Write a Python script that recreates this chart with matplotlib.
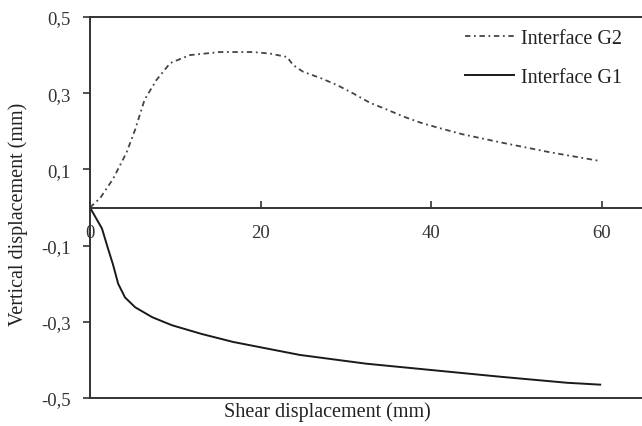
import matplotlib
matplotlib.use("Agg")
import numpy as np
from matplotlib import pyplot as plt

plt.rcParams['font.family'] = ['Liberation Serif', 'DejaVu Serif']

# interface G2 (dilatant) - shear vs vertical displacement, mm
g2_x = [0, 1.2, 2.7, 4.3, 5.3, 6.4, 7.8, 9.4, 11.7, 15.2, 19.1, 21.1, 23.1,
        23.8, 25.0, 27.0, 28.9, 30.8, 32.8, 34.8, 36.7, 38.7, 40.7, 43.7,
        48.1, 53.9, 59.8]
g2_y = [0, 0.025, 0.075, 0.145, 0.205, 0.283, 0.335, 0.379, 0.400, 0.408,
        0.408, 0.404, 0.395, 0.374, 0.356, 0.340, 0.322, 0.300, 0.275, 0.257,
        0.239, 0.223, 0.210, 0.192, 0.171, 0.145, 0.122]

# interface G1 (contractant)
g1_x = [0, 0.2, 1.4, 2.1, 2.7, 3.3, 4.1, 5.3, 7.3, 9.6, 13.1, 16.8, 24.6,
        32.4, 40.2, 48.0, 55.9, 59.8]
g1_y = [0, -0.008, -0.055, -0.107, -0.150, -0.200, -0.236, -0.262, -0.288,
        -0.309, -0.332, -0.353, -0.387, -0.410, -0.427, -0.444, -0.460, -0.465]

x_ticks = [0, 20, 40, 60]
y_ticks = [0.5, 0.3, 0.1, -0.1, -0.3, -0.5]
y_tick_labels = ["0,5", "0,3", "0,1", "-0,1", "-0,3", "-0,5"]

fig = plt.figure(figsize=(6.42, 4.27), dpi=100)
ax = fig.add_axes([90 / 642, 28 / 427, 552 / 642, 381 / 427])

ax.plot(g2_x, g2_y, color="#444444", lw=1.3, linestyle=(0, (3, 2, 1, 2)),
        label="Interface G2")
ax.plot(g1_x, g1_y, color="#1a1a1a", lw=1.4, label="Interface G1")

ax.set_xlim(0, 64.7)
ax.set_ylim(-0.5, 0.5)

# x axis sits on y = 0, bottom frame line drawn separately
ax.spines['bottom'].set_position(('data', 0))
ax.spines['right'].set_visible(False)
for s in ['bottom', 'top', 'left']:
    ax.spines[s].set_color("#333333")
    ax.spines[s].set_linewidth(1.4)
ax.axhline(-0.5, color="#333333", lw=1.4, clip_on=False)

ax.set_xticks(x_ticks)
ax.set_xticklabels([str(v) for v in x_ticks])
ax.set_yticks(y_ticks)
ax.set_yticklabels(y_tick_labels)
ax.tick_params(axis='x', direction='in', length=5, width=1.2, pad=12,
               labelsize=13.5, colors="#333333")
ax.tick_params(axis='y', direction='out', length=5, width=1.2, pad=9,
               labelsize=13.5, colors="#333333")

fig.text(327 / 642, 1 - 412 / 427, "Shear displacement (mm)", fontsize=14.5,
         ha='center', va='center', color="#222222")
fig.text(18 / 642, 1 - 214 / 427, "Vertical displacement (mm)", fontsize=14.5,
         ha='center', va='center', rotation=90, color="#222222")

leg = ax.legend(loc='upper right', bbox_to_anchor=(640 / 642, 1 - 12 / 427),
                bbox_transform=fig.transFigure, frameon=False, fontsize=14.5,
                handlelength=2.4, handletextpad=0.35, labelspacing=1.0)
for t in leg.get_texts():
    t.set_color("#222222")

fig.savefig("out.png", dpi=100)
